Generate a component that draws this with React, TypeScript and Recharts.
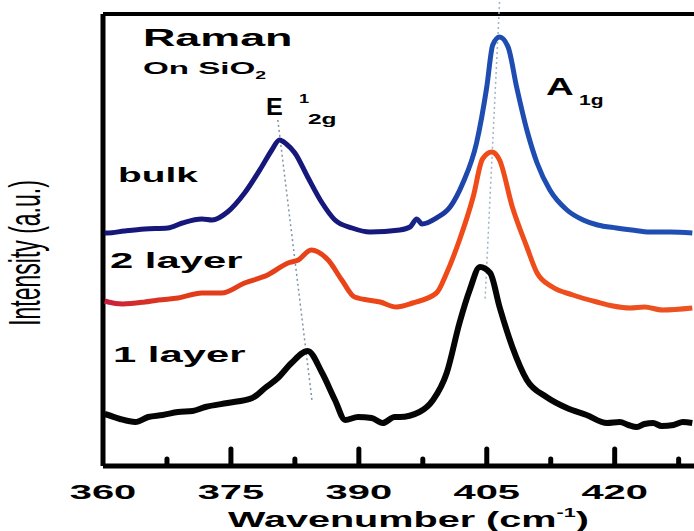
import React from 'react';
import { LineChart, Line, XAxis, YAxis, ReferenceLine } from 'recharts';

// Raman spectra of MoS2 on SiO2 (intensity in arbitrary units, stacked by offset)
const bulkWn = [360.2, 360.5, 362.5, 364.9, 367.6, 369.3, 371.6, 372.8, 374.6, 376.6, 378.6, 379.8, 380.7, 381.5, 382.5, 384.0, 385.7, 387.2, 389.2, 391.3, 394.8, 396.0, 396.8, 397.4, 399.1, 400.7, 402.2, 403.8, 405.0, 405.7, 406.5, 407.5, 408.5, 409.7, 410.9, 412.4, 414.4, 416.3, 418.0, 420.2, 422.0, 424.1, 426.5, 429.1];
const bulkI = [233, 233, 235, 237, 238, 243, 247, 246, 254, 273, 299, 316, 326, 322, 313, 289, 263, 246, 238, 234, 236, 239, 247, 242, 248, 259, 283, 323, 379, 421, 429, 419, 379, 336, 303, 276, 256, 246, 241, 238, 236, 234, 234, 233];

const twoLayerWn = [360.2, 360.6, 362.3, 364.9, 366.5, 368.8, 371.6, 373.9, 376.6, 379.3, 381.7, 382.9, 384.4, 386.4, 388.0, 389.5, 392.5, 394.4, 396.3, 399.1, 400.3, 401.8, 403.4, 404.5, 405.6, 406.5, 408.0, 409.7, 410.9, 412.7, 415.1, 417.9, 419.8, 421.8, 423.5, 425.6, 429.1];
const twoLayerI = [165, 164, 162, 164, 166, 168, 173, 173, 183, 191, 203, 206, 216, 206, 186, 169, 164, 159, 163, 173, 193, 226, 269, 307, 314, 306, 259, 219, 193, 179, 171, 164, 160, 158, 159, 156, 158];

const oneLayerWn = [360.2, 360.6, 362.0, 363.8, 365.3, 367.0, 368.8, 370.5, 372.0, 374.6, 377.5, 379.0, 380.5, 382.1, 384.0, 385.7, 387.2, 388.4, 389.9, 391.5, 392.8, 394.2, 394.8, 397.1, 398.7, 400.3, 401.8, 403.0, 404.2, 405.4, 406.5, 408.0, 409.7, 412.0, 414.4, 416.7, 419.1, 420.6, 421.6, 422.6, 423.5, 424.5, 425.5, 426.9, 428.0, 429.1];
const oneLayerI = [52, 51, 47, 44, 49, 51, 54, 55, 59, 63, 68, 78, 88, 103, 115, 93, 66, 46, 49, 48, 43, 49, 49, 54, 66, 93, 143, 176, 199, 193, 159, 119, 86, 69, 58, 51, 43, 44, 41, 39, 42, 43, 40, 41, 44, 43];

const xTicks = [360, 367.5, 375, 382.5, 390, 397.5, 405, 412.5, 420, 427.5];
const xLabels = [360, 375, 390, 405, 420];

// dotted peak-position guides
const e2gGuide = [{ x: 380.5, y: 346 }, { x: 384.5, y: 66 }];
const a1gGuide = [{ x: 406.5, y: 464 }, { x: 404.8, y: 166 }];

const toData = (wn: number[], inten: number[]) => wn.map((w, i) => ({ w, i: inten[i] }));

const AxisTick = (props: any) => {
  const { x, y, payload } = props;
  const v = payload.value;
  const major = xLabels.includes(v);
  const base = y - 2;
  return (
    <g>
      {v !== 360 && (
        <line x1={x} x2={x} y1={base} y2={base - (major ? 15 : 5)} stroke="#000" strokeWidth={5} strokeLinecap="round" />
      )}
      {major && (
        <text
          transform={`translate(${x},${y + 33}) scale(1.9,1)`}
          textAnchor="middle"
          fontFamily="Liberation Sans, Arial, sans-serif"
          fontWeight="bold"
          fontSize={21}
          fill="#000"
        >
          {v}
        </text>
      )}
    </g>
  );
};

const txt = { fontFamily: 'Liberation Sans, Arial, sans-serif', fontWeight: 'bold' as const, fill: '#000' };

export default function App() {
  return (
    <div style={{ position: 'fixed', left: 0, top: 0, width: 694, height: 531, background: '#fff' }}>
      <LineChart width={694} height={531} margin={{ top: 14, right: 0, bottom: 35, left: 103 }}>
        <defs>
          <linearGradient id="bulkGrad" x1="0" y1="0" x2="1" y2="0">
            <stop offset="0" stopColor="#16177a" />
            <stop offset="0.5" stopColor="#16187c" />
            <stop offset="0.62" stopColor="#1e4cb0" />
            <stop offset="1" stopColor="#1f4fb4" />
          </linearGradient>
          <linearGradient id="twoGrad" x1="0" y1="0" x2="1" y2="0">
            <stop offset="0" stopColor="#c8203e" />
            <stop offset="0.12" stopColor="#e03a1a" />
            <stop offset="0.6" stopColor="#f04a18" />
            <stop offset="1" stopColor="#ec5222" />
          </linearGradient>
        </defs>
        <XAxis
          type="number"
          dataKey="w"
          domain={[360, 429.3]}
          ticks={xTicks}
          interval={0}
          allowDataOverflow
          height={30}
          tickSize={0}
          tickMargin={0}
          tickLine={false}
          tick={<AxisTick />}
          axisLine={{ stroke: '#000', strokeWidth: 5 }}
        />
        <YAxis type="number" domain={[0, 452]} hide allowDataOverflow />
        <ReferenceLine x={360} stroke="#000" strokeWidth={5} />
        <ReferenceLine y={452} stroke="#000" strokeWidth={4} />
        <ReferenceLine segment={e2gGuide} stroke="#7f93a3" strokeWidth={1.5} strokeDasharray="2 3" ifOverflow="visible" />
        <ReferenceLine segment={a1gGuide} stroke="#9fb3c0" strokeWidth={1.5} strokeDasharray="2 3" ifOverflow="visible" />
        <Line data={toData(oneLayerWn, oneLayerI)} dataKey="i" type="monotone" stroke="#050505" strokeWidth={6} dot={false} isAnimationActive={false} strokeLinejoin="round" />
        <Line data={toData(twoLayerWn, twoLayerI)} dataKey="i" type="monotone" stroke="url(#twoGrad)" strokeWidth={5} dot={false} isAnimationActive={false} strokeLinejoin="round" />
        <Line data={toData(bulkWn, bulkI)} dataKey="i" type="monotone" stroke="url(#bulkGrad)" strokeWidth={5} dot={false} isAnimationActive={false} strokeLinejoin="round" />
      </LineChart>
      <svg width={694} height={531} style={{ position: 'absolute', left: 0, top: 0, pointerEvents: 'none' }}>
        <text {...txt} fontSize={23} transform="translate(143,46) scale(1.95,1)">Raman</text>
        <text {...txt} fontSize={17} transform="translate(143,74) scale(1.95,1)">
          On SiO<tspan fontSize={10} dy={5}>2</tspan>
        </text>
        <text {...txt} fontSize={24} transform="translate(266,115) scale(1.05,1)">E</text>
        <text {...txt} fontSize={13} transform="translate(299,103) scale(1.4,1)">1</text>
        <text {...txt} fontSize={14} transform="translate(308,124) scale(1.75,1)">2g</text>
        <text {...txt} fontSize={24} transform="translate(546,95) scale(1.6,1)">A</text>
        <text {...txt} fontSize={14} transform="translate(579,105) scale(1.5,1)">1g</text>
        <text {...txt} fontSize={21} transform="translate(118,182) scale(1.85,1)">bulk</text>
        <text {...txt} fontSize={22} transform="translate(110,268) scale(1.9,1)">2 layer</text>
        <text {...txt} fontSize={22} transform="translate(113,362) scale(1.9,1)">1 layer</text>
        <text {...txt} fontSize={22} transform="translate(228,527) scale(1.8,1)">
          Wavenumber (cm<tspan fontSize={12} dy={-10}>-1</tspan><tspan dy={10}>)</tspan>
        </text>
        <text
          fontFamily="Liberation Sans Narrow, Liberation Sans, Arial, sans-serif"
          fontSize={23}
          fill="#000"
          textAnchor="middle"
          transform="translate(40,253) scale(1.9,1) rotate(-90)"
        >
          Intensity (a.u.)
        </text>
      </svg>
    </div>
  );
}
